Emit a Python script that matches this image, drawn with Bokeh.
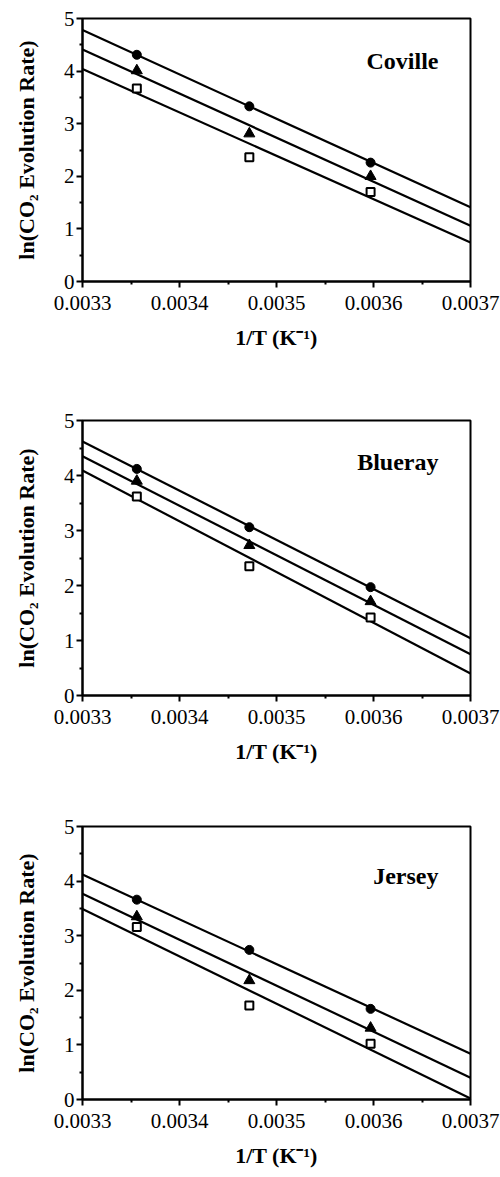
from bokeh.plotting import figure
from bokeh.layouts import column
from bokeh.models import FixedTicker, PrintfTickFormatter, Label
from bokeh.embed import file_html
from bokeh.resources import INLINE

# ---- data ----
inv_T = [0.003356, 0.003472, 0.003597]   # 1/T (K^-1)
x_fit = [0.0033, 0.0037]

cultivars = ["Coville", "Blueray", "Jersey"]

coville_circle = [4.31, 3.33, 2.26]
coville_triangle = [4.01, 2.81, 2.00]
coville_square = [3.67, 2.36, 1.70]
coville_fit_circle = [4.78, 1.41]
coville_fit_triangle = [4.41, 1.06]
coville_fit_square = [4.04, 0.74]

blueray_circle = [4.12, 3.06, 1.97]
blueray_triangle = [3.90, 2.73, 1.71]
blueray_square = [3.62, 2.35, 1.42]
blueray_fit_circle = [4.62, 1.04]
blueray_fit_triangle = [4.35, 0.75]
blueray_fit_square = [4.09, 0.40]

jersey_circle = [3.66, 2.74, 1.66]
jersey_triangle = [3.35, 2.18, 1.31]
jersey_square = [3.16, 1.72, 1.02]
jersey_fit_circle = [4.12, 0.84]
jersey_fit_triangle = [3.77, 0.40]
jersey_fit_square = [3.49, 0.02]

x_ticks = [0.0033, 0.0034, 0.0035, 0.0036, 0.0037]
x_minor = [0.00335, 0.00345, 0.00355, 0.00365]
y_ticks = [0, 1, 2, 3, 4, 5]
y_minor = [0.5, 1.5, 2.5, 3.5, 4.5]

panels = [
    dict(name="Coville", c=coville_circle, t=coville_triangle, s=coville_square,
         fc=coville_fit_circle, ft=coville_fit_triangle, fs=coville_fit_square,
         left=82, top=18, fh=263, bottom=114, label_y=4.20),
    dict(name="Blueray", c=blueray_circle, t=blueray_triangle, s=blueray_square,
         fc=blueray_fit_circle, ft=blueray_fit_triangle, fs=blueray_fit_square,
         left=80, top=25, fh=275, bottom=105, label_y=4.24),
    dict(name="Jersey", c=jersey_circle, t=jersey_triangle, s=jersey_square,
         fc=jersey_fit_circle, ft=jersey_fit_triangle, fs=jersey_fit_square,
         left=81, top=26, fh=273, bottom=78, label_y=4.10),
]

SERIF = "Liberation Serif"
figs = []
for pn in panels:
    p = figure(frame_width=388, frame_height=pn["fh"],
               x_range=(0.0033, 0.0037), y_range=(0, 5),
               output_backend="svg", toolbar_location=None,
               min_border_left=pn["left"], min_border_right=500 - pn["left"] - 388,
               min_border_top=pn["top"], min_border_bottom=pn["bottom"])
    p.xgrid.visible = False
    p.ygrid.visible = False
    p.outline_line_color = "black"
    p.outline_line_width = 2
    p.background_fill_color = "white"
    p.border_fill_color = "white"

    p.xaxis.ticker = FixedTicker(ticks=x_ticks, minor_ticks=x_minor)
    p.yaxis.ticker = FixedTicker(ticks=y_ticks, minor_ticks=y_minor)
    p.xaxis.formatter = PrintfTickFormatter(format="%.4f")
    for ax in (p.xaxis, p.yaxis):
        ax.axis_line_width = 2
        ax.axis_line_color = "black"
        ax.major_tick_line_width = 2
        ax.minor_tick_line_width = 2
        ax.major_tick_in = 0
        ax.major_tick_out = 6
        ax.minor_tick_in = 0
        ax.minor_tick_out = 3
        ax.major_label_text_font = SERIF
        ax.major_label_text_font_size = "21px"
        ax.major_label_text_color = "black"
        ax.axis_label_text_font = SERIF
        ax.axis_label_text_font_style = "bold"
        ax.axis_label_text_font_size = "22px"
        ax.axis_label_text_color = "black"
    p.xaxis.major_label_standoff = 8
    p.yaxis.major_label_standoff = 2
    p.xaxis.axis_label = "1/T (K\u207b\u00b9)"
    p.yaxis.axis_label = "ln(CO\u2082 Evolution Rate)"
    p.xaxis.axis_label_standoff = 12
    p.yaxis.axis_label_standoff = 22

    p.line(x_fit, pn["fc"], line_color="black", line_width=2.2)
    p.line(x_fit, pn["ft"], line_color="black", line_width=2.2)
    p.line(x_fit, pn["fs"], line_color="black", line_width=2.2)

    p.scatter(inv_T, pn["c"], marker="circle", size=9, fill_color="black", line_color="black")
    p.scatter(inv_T, pn["t"], marker="triangle", size=11, fill_color="black", line_color="black")
    p.scatter(inv_T, pn["s"], marker="square", size=8, fill_color="white", line_color="black", line_width=2)

    p.add_layout(Label(x=0.003667, y=pn["label_y"], text=pn["name"], text_align="right",
                       text_baseline="alphabetic", text_font=SERIF, text_font_style="bold",
                       text_font_size="24px", text_color="black"))
    figs.append(p)

layout = column(*figs, spacing=0)
open("out.html", "w").write(file_html(layout, INLINE))
